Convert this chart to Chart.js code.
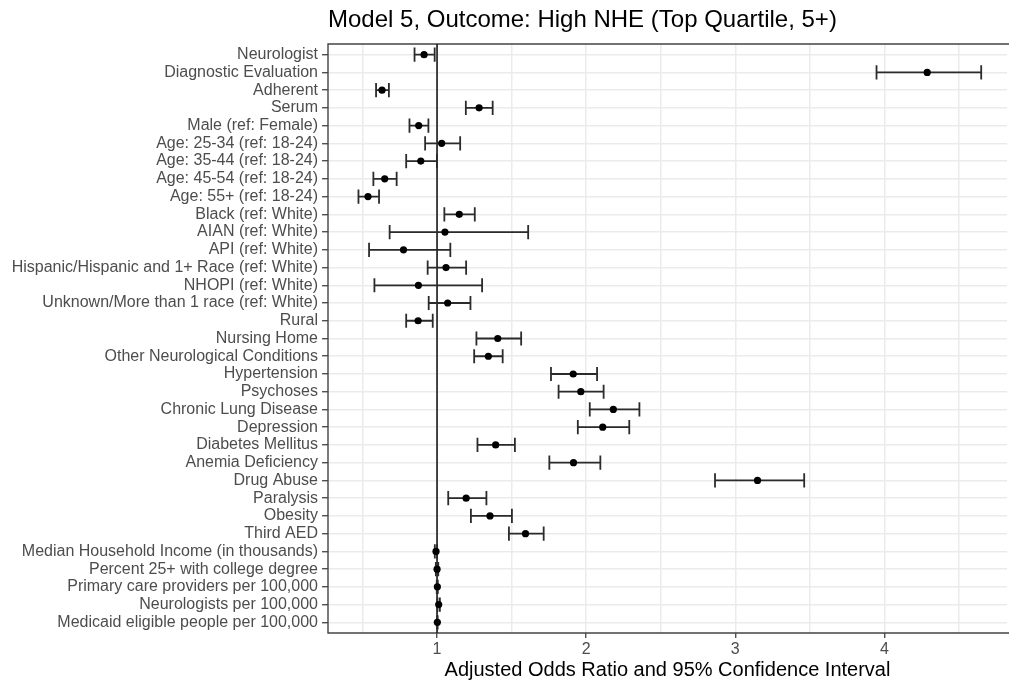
<!DOCTYPE html>
<html><head><meta charset="utf-8">
<script src="https://cdn.jsdelivr.net/npm/chart.js@4.4.1/dist/chart.umd.min.js"></script>
<style>html,body{margin:0;padding:0;background:#fff;overflow:hidden}
#c{display:block}</style></head>
<body><canvas id="c" width="1011" height="683" style="width:1011px;height:683px"></canvas>
<script>
const rowLabels = [
  'Neurologist','Diagnostic Evaluation','Adherent','Serum','Male (ref: Female)',
  'Age: 25-34 (ref: 18-24)','Age: 35-44 (ref: 18-24)','Age: 45-54 (ref: 18-24)','Age: 55+ (ref: 18-24)',
  'Black (ref: White)','AIAN (ref: White)','API (ref: White)','Hispanic/Hispanic and 1+ Race (ref: White)',
  'NHOPI (ref: White)','Unknown/More than 1 race (ref: White)','Rural','Nursing Home',
  'Other Neurological Conditions','Hypertension','Psychoses','Chronic Lung Disease','Depression',
  'Diabetes Mellitus','Anemia Deficiency','Drug Abuse','Paralysis','Obesity','Third AED',
  'Median Household Income (in thousands)','Percent 25+ with college degree',
  'Primary care providers per 100,000','Neurologists per 100,000','Medicaid eligible people per 100,000'
];
const oddsRatio = [0.913,4.287,0.631,1.282,0.877,1.031,0.891,0.649,0.537,1.149,1.053,0.775,1.060,0.875,1.071,0.873,1.407,1.344,1.913,1.964,2.182,2.111,1.393,1.915,3.149,1.195,1.355,1.593,0.993,1.000,1.002,1.011,1.002];
const ciLow     = [0.849,3.947,0.591,1.193,0.815,0.920,0.793,0.573,0.473,1.049,0.682,0.544,0.937,0.580,0.944,0.793,1.264,1.249,1.764,1.815,2.024,1.944,1.271,1.753,2.864,1.075,1.227,1.482,0.985,0.992,0.998,1.003,1.000];
const ciHigh    = [0.984,4.649,0.677,1.373,0.942,1.155,0.999,0.729,0.611,1.253,1.611,1.089,1.195,1.302,1.224,0.971,1.564,1.440,2.073,2.117,2.357,2.289,1.522,2.095,3.462,1.331,1.502,1.715,1.000,1.008,1.005,1.019,1.004];
const xTickValues = [1, 2, 3, 4];
const referenceValue = 1;
const titleText = 'Model 5, Outcome: High NHE (Top Quartile, 5+)';
const xAxisTitle = 'Adjusted Odds Ratio and 95% Confidence Interval';

const FONT = "'Liberation Sans', Arial, sans-serif";

const forestPlugin = {
  id: 'forest',
  beforeDatasetsDraw(chart) {
    const {ctx, chartArea: a, scales: {x, y}} = chart;
    ctx.save();
    // panel border (the right side lies beyond the picture edge)
    ctx.strokeStyle = '#444';
    ctx.lineWidth = 1.4;
    ctx.beginPath();
    ctx.moveTo(a.right + 2, a.top); ctx.lineTo(a.left, a.top);
    ctx.lineTo(a.left, a.bottom); ctx.lineTo(a.right + 2, a.bottom);
    ctx.stroke();
    ctx.beginPath(); ctx.rect(a.left, a.top, a.right - a.left, a.bottom - a.top); ctx.clip();
    // reference line
    const rx = x.getPixelForValue(referenceValue);
    ctx.strokeStyle = '#1a1a1a'; ctx.lineWidth = 1.6;
    ctx.beginPath(); ctx.moveTo(rx, a.top); ctx.lineTo(rx, a.bottom); ctx.stroke();
    // error bars
    ctx.strokeStyle = '#2b2b2b'; ctx.lineWidth = 1.8;
    rowLabels.forEach((lab, i) => {
      const yc = y.getPixelForValue(i + 1);
      const y0 = y.getPixelForValue(i + 1 - 0.4), y1 = y.getPixelForValue(i + 1 + 0.4);
      const xl = x.getPixelForValue(ciLow[i]), xh = x.getPixelForValue(ciHigh[i]);
      ctx.beginPath();
      ctx.moveTo(xl, yc); ctx.lineTo(xh, yc);
      ctx.moveTo(xl, y0); ctx.lineTo(xl, y1);
      ctx.moveTo(xh, y0); ctx.lineTo(xh, y1);
      ctx.stroke();
    });
    ctx.restore();
  }
};

new Chart(document.getElementById('c'), {
  type: 'scatter',
  data: {
    datasets: [{
      data: oddsRatio.map((v, i) => ({x: v, y: i + 1})),
      backgroundColor: '#000',
      borderColor: '#000',
      borderWidth: 0,
      pointRadius: 3.6
    }]
  },
  options: {
    responsive: false,
    maintainAspectRatio: false,
    devicePixelRatio: 1,
    animation: false,
    events: [],
    layout: {padding: {left: 0, right: 0, top: 0, bottom: 0}},
    plugins: {
      legend: {display: false},
      tooltip: {enabled: false},
      title: {
        display: true, text: titleText, align: 'start', fullSize: false,
        color: '#000', font: {family: FONT, size: 24, weight: 'normal'},
        padding: {top: 6, bottom: 9.2}
      }
    },
    scales: {
      x: {
        type: 'linear', min: 0.2687, max: 4.822,
        afterFit: s => { s.height = 50; },
        border: {display: false},
        grid: {
          color: '#EBEBEB', lineWidth: 1.5, tickLength: 5, tickWidth: 1.2,
          tickColor: ctx => (ctx.tick && xTickValues.includes(ctx.tick.value)) ? '#333' : 'rgba(0,0,0,0)'
        },
        ticks: {
          stepSize: 0.5, includeBounds: false, autoSkip: false, maxRotation: 0,
          padding: 2, color: '#4D4D4D', font: {family: FONT, size: 16},
          callback: v => xTickValues.includes(v) ? String(v) : ''
        },
        title: {display: true, text: xAxisTitle, color: '#000', font: {family: FONT, size: 20}, padding: {top: 0, bottom: 1}}
      },
      y: {
        type: 'linear', min: 0.4, max: rowLabels.length + 0.6, reverse: true,
        afterFit: s => { s.width = 328; },
        border: {display: false},
        grid: {color: '#EBEBEB', lineWidth: 1.5, tickLength: 6, tickWidth: 1.2, tickColor: '#333'},
        ticks: {
          stepSize: 1, includeBounds: false, autoSkip: false, padding: 4,
          color: '#4D4D4D', font: {family: FONT, size: 16},
          callback: v => rowLabels[v - 1] ?? ''
        }
      }
    }
  },
  plugins: [forestPlugin]
});
</script></body></html>
